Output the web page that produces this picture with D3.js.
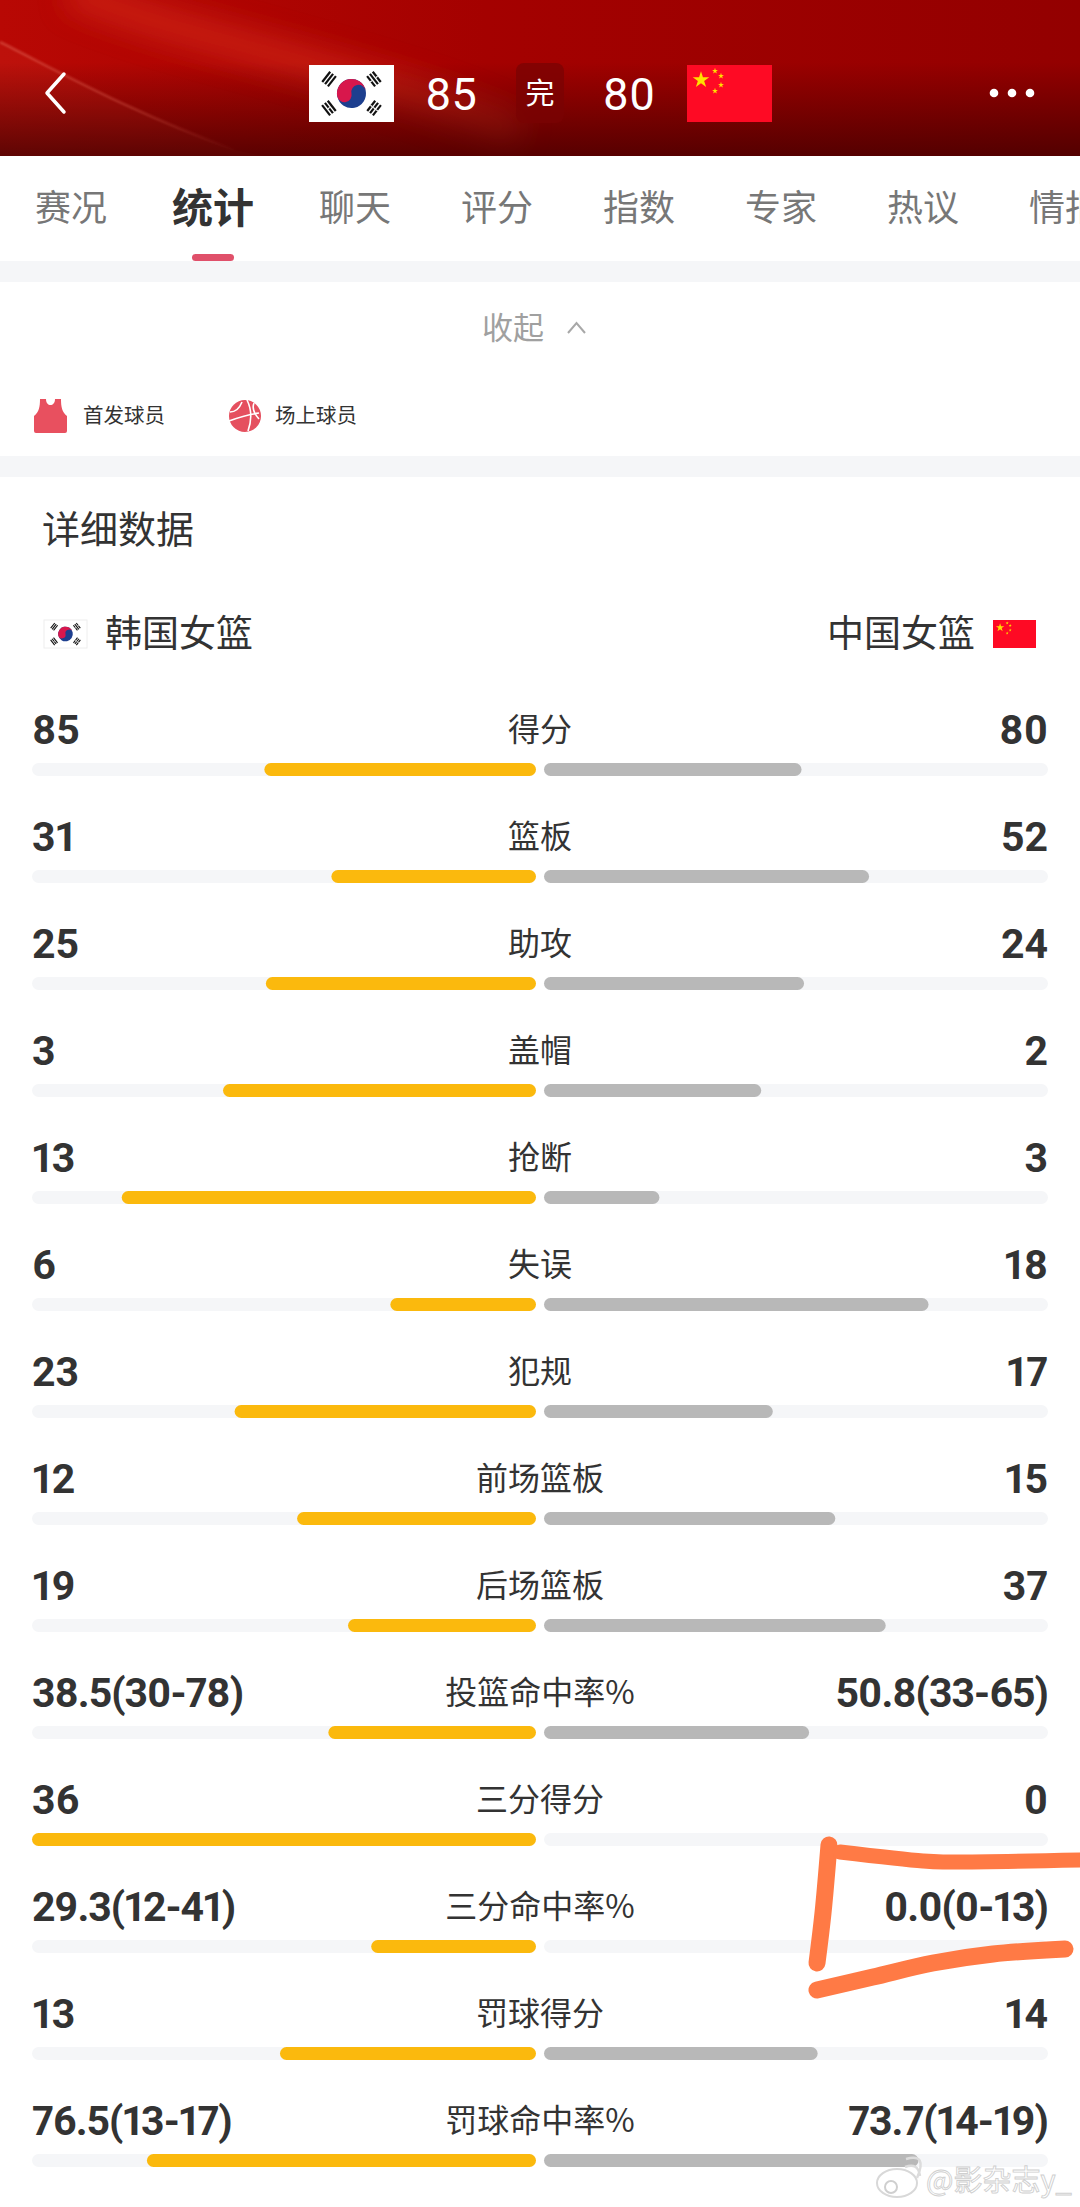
<!DOCTYPE html>
<html>
<head>
<meta charset="utf-8">
<script src="https://cdn.jsdelivr.net/npm/d3@7"></script>
<style>
  html, body { margin: 0; padding: 0; background: #fff; overflow: hidden; }
  svg { display: block; }
  text { font-family: "Noto Sans CJK SC", "Noto Sans", sans-serif; }
  .num { font-family: Roboto, "Noto Sans", sans-serif; font-feature-settings: "pnum" 1; font-variant-numeric: proportional-nums; }
</style>
</head>
<body>
<div id="container"></div>
<script>
// match data
const tabs = ["赛况", "统计", "聊天", "评分", "指数", "专家", "热议", "情报"];
const activeTab = "统计";
const homeScore = "85";
const awayScore = "80";
const homeTeam = "韩国女篮";
const awayTeam = "中国女篮";

const statNames = ["得分", "篮板", "助攻", "盖帽", "抢断", "失误", "犯规", "前场篮板", "后场篮板",
  "投篮命中率%", "三分得分", "三分命中率%", "罚球得分", "罚球命中率%"];
const homeLabels = ["85", "31", "25", "3", "13", "6", "23", "12", "19",
  "38.5(30-78)", "36", "29.3(12-41)", "13", "76.5(13-17)"];
const awayLabels = ["80", "52", "24", "2", "3", "18", "17", "15", "37",
  "50.8(33-65)", "0", "0.0(0-13)", "14", "73.7(14-19)"];

// how much of its track each bar fills, in percent
const homeFill = [53.9, 40.6, 53.6, 62.1, 82.2, 28.9, 59.8, 47.4, 37.3, 41.2, 100, 32.7, 50.8, 77.2];
const awayFill = [51.1, 64.5, 51.6, 43.1, 22.9, 76.3, 45.4, 57.8, 67.8, 52.6, 0, 0, 54.3, 74.3];

const width = 1080;
const height = 2207;
const textColor = "#333333";
const trackColor = "#f5f6f8";

const svg = d3.select("#container").append("svg")
  .attr("width", width)
  .attr("height", height)
  .attr("viewBox", "0 0 " + width + " " + height);

const defs = svg.append("defs");

// 1. Red header
const baseGrad = defs.append("linearGradient").attr("id", "baseGrad")
  .attr("x1", 0).attr("y1", 0).attr("x2", 1).attr("y2", 0);
baseGrad.append("stop").attr("offset", 0).attr("stop-color", "#b80804");
baseGrad.append("stop").attr("offset", 0.45).attr("stop-color", "#a40100");
baseGrad.append("stop").attr("offset", 1).attr("stop-color", "#930000");

const shadeGrad = defs.append("linearGradient").attr("id", "shadeGrad")
  .attr("x1", 0).attr("y1", 0).attr("x2", 0).attr("y2", 1);
shadeGrad.append("stop").attr("offset", 0.4).attr("stop-color", "#3a0000").attr("stop-opacity", 0);
shadeGrad.append("stop").attr("offset", 1).attr("stop-color", "#3a0000").attr("stop-opacity", 0.72);

const lineGrad = defs.append("linearGradient").attr("id", "lineGrad")
  .attr("gradientUnits", "userSpaceOnUse")
  .attr("x1", 0).attr("y1", 0).attr("x2", 240).attr("y2", 0);
lineGrad.append("stop").attr("offset", 0).attr("stop-color", "#e8705f").attr("stop-opacity", 0.55);
lineGrad.append("stop").attr("offset", 0.55).attr("stop-color", "#e8705f").attr("stop-opacity", 0.4);
lineGrad.append("stop").attr("offset", 1).attr("stop-color", "#e8705f").attr("stop-opacity", 0);

defs.append("filter").attr("id", "soft")
  .attr("x", "-30%").attr("y", "-60%").attr("width", "160%").attr("height", "220%")
  .append("feGaussianBlur").attr("stdDeviation", 14);
defs.append("filter").attr("id", "softLine")
  .attr("x", "-10%").attr("y", "-10%").attr("width", "120%").attr("height", "120%")
  .append("feGaussianBlur").attr("stdDeviation", 0.8);
defs.append("clipPath").attr("id", "headerClip")
  .append("rect").attr("width", width).attr("height", 156);

const header = svg.append("g").attr("clip-path", "url(#headerClip)");
header.append("rect").attr("width", width).attr("height", 156).attr("fill", "url(#baseGrad)");
// lighter streaks across the red
header.append("path")
  .attr("d", "M70,-10 C150,25 230,40 330,70 C400,90 450,105 520,135")
  .attr("fill", "none").attr("stroke", "#d62a1c").attr("stroke-width", 34)
  .attr("opacity", 0.6).attr("filter", "url(#soft)");
header.append("path")
  .attr("d", "M0,42 C60,72 130,112 235,150 L330,170 L0,170 Z")
  .attr("fill", "#ff7a60").attr("opacity", 0.08);
header.append("rect").attr("width", width).attr("height", 156).attr("fill", "url(#shadeGrad)");
header.append("path")
  .attr("d", "M0,42 C60,72 130,112 235,150")
  .attr("fill", "none").attr("stroke", "url(#lineGrad)").attr("stroke-width", 2)
  .attr("filter", "url(#softLine)");

header.append("path")
  .attr("d", "M64,74 L47,93 L64,112")
  .attr("fill", "none").attr("stroke", "#fff").attr("stroke-width", 3.5)
  .attr("stroke-linecap", "round").attr("stroke-linejoin", "round");

header.selectAll("circle.dot")
  .data([994, 1012, 1030])
  .enter().append("circle")
  .attr("class", "dot")
  .attr("cx", d => d).attr("cy", 93).attr("r", 4.3).attr("fill", "#fff");

function drawKorea(x, y, w, h) {
  const g = svg.append("g").attr("transform", "translate(" + x + "," + y + ")");
  const k = w / 85;
  g.append("rect").attr("width", w).attr("height", h).attr("fill", "#fff");
  const c = g.append("g").attr("transform", "translate(" + (w / 2) + "," + (h / 2) + ") scale(" + (14.5 * k) + ") rotate(-12)");
  c.append("circle").attr("r", 1).attr("fill", "#1d3f8f");
  c.append("path")
    .attr("d", "M-1,0 A1,1 0 0 1 1,0 A0.5,0.5 0 0 0 0,0 A0.5,0.5 0 0 1 -1,0 Z")
    .attr("fill", "#d8174c");
  const corners = [
    {a: -52, dx: -1, dy: -1, broken: [0, 0, 0]},
    {a: 52, dx: 1, dy: -1, broken: [1, 0, 1]},
    {a: 52, dx: -1, dy: 1, broken: [0, 1, 0]},
    {a: -52, dx: 1, dy: 1, broken: [1, 1, 1]}
  ];
  corners.forEach(t => {
    const tg = g.append("g")
      .attr("transform", "translate(" + (w / 2 + t.dx * 22.5 * k) + "," + (h / 2 + t.dy * 14.5 * k) + ") rotate(" + t.a + ")");
    t.broken.forEach((b, i) => {
      tg.append("rect")
        .attr("x", -6.5 * k).attr("y", (-4.6 + i * 3.6) * k)
        .attr("width", 13 * k).attr("height", 2.2 * k).attr("fill", "#111");
      if (b) {
        tg.append("rect")
          .attr("x", -0.6 * k).attr("y", (-4.6 + i * 3.6) * k)
          .attr("width", 1.2 * k).attr("height", 2.2 * k).attr("fill", "#fff");
      }
    });
  });
  return g;
}

function drawChina(x, y, w, h) {
  const g = svg.append("g").attr("transform", "translate(" + x + "," + y + ")");
  const k = w / 85;
  g.append("rect").attr("width", w).attr("height", h).attr("fill", "#fe0a24");
  const star = d3.symbol().type(d3.symbolStar);
  g.append("path")
    .attr("d", star.size(85 * k * k)())
    .attr("transform", "translate(" + (14 * k) + "," + (15 * k) + ")")
    .attr("fill", "#ffdf00");
  [[28, 6], [34, 11], [34, 20], [28, 26]].forEach(s => {
    g.append("path")
      .attr("d", star.size(11 * k * k)())
      .attr("transform", "translate(" + (s[0] * k) + "," + (s[1] * k) + ")")
      .attr("fill", "#ffdf00");
  });
  return g;
}

drawKorea(309, 65, 85, 57);
drawChina(687, 65, 85, 57);

svg.append("text").attr("class", "num")
  .attr("x", 451).attr("y", 110).attr("text-anchor", "middle")
  .attr("font-size", 45).attr("fill", "#fff").text(homeScore);
svg.append("text").attr("class", "num")
  .attr("x", 629).attr("y", 110).attr("text-anchor", "middle")
  .attr("font-size", 45).attr("fill", "#fff").text(awayScore);
svg.append("rect")
  .attr("x", 516).attr("y", 63).attr("width", 48).attr("height", 60).attr("rx", 8)
  .attr("fill", "#7a0303").attr("opacity", 0.75);
svg.append("text")
  .attr("x", 540).attr("y", 104).attr("text-anchor", "middle")
  .attr("font-size", 29).attr("fill", "#fff").text("完");

// 2. Tabs
const tabX = d3.scalePoint().domain(tabs).range([71, 1065]);

svg.selectAll("text.tab")
  .data(tabs)
  .enter().append("text")
  .attr("class", "tab")
  .attr("x", d => tabX(d))
  .attr("y", d => d === activeTab ? 223 : 221)
  .attr("text-anchor", "middle")
  .attr("font-size", d => d === activeTab ? 41 : 36)
  .attr("font-weight", d => d === activeTab ? 700 : 400)
  .attr("fill", d => d === activeTab ? textColor : "#777")
  .text(d => d);

svg.append("rect").attr("y", 261).attr("width", width).attr("height", 21).attr("fill", trackColor);
svg.append("rect")
  .attr("x", 192).attr("y", 254).attr("width", 42).attr("height", 7).attr("rx", 3.5)
  .attr("fill", "#e0506a");

// 3. Collapse line and the little legend
svg.append("text")
  .attr("x", 513).attr("y", 339).attr("text-anchor", "middle")
  .attr("font-size", 31).attr("fill", "#a0a0a0").text("收起");
svg.append("path")
  .attr("d", "M568,333 L576.5,323 L585,333")
  .attr("fill", "none").attr("stroke", "#a8a8a8").attr("stroke-width", 2);

svg.append("path")
  .attr("d", "M40,399 L46,399 C46,407 55,407 55,399 L61,399 C61,407 62,412 67,416 L67,431 Q67,433 65,433 L36,433 Q34,433 34,431 L34,416 C39,412 40,407 40,399 Z")
  .attr("fill", "#e8505f");
svg.append("text")
  .attr("x", 83).attr("y", 423).attr("font-size", 20.5).attr("fill", textColor).text("首发球员");

const ball = svg.append("g").attr("transform", "translate(245,416)");
ball.append("circle").attr("r", 16).attr("fill", "#e5505f");
ball.append("path")
  .attr("d", "M-15,-4 Q-7,-4 -3,-14 M-16,5 Q0,-1 14,-3 M2,-16 Q9,-2 3,15 M9,-13 Q6,-6 14,3")
  .attr("fill", "none").attr("stroke", "#fff").attr("stroke-width", 1.6);
svg.append("text")
  .attr("x", 275).attr("y", 423).attr("font-size", 20.5).attr("fill", textColor).text("场上球员");

svg.append("rect").attr("y", 456).attr("width", width).attr("height", 21).attr("fill", trackColor);

// 4. Section title and team names
svg.append("text")
  .attr("x", 42).attr("y", 543).attr("font-size", 38).attr("fill", textColor).text("详细数据");

drawKorea(44, 620, 43, 28).select("rect").attr("stroke", "#eee");
svg.append("text")
  .attr("x", 105).attr("y", 647).attr("font-size", 37).attr("fill", textColor).text(homeTeam);
drawChina(993, 620, 43, 28);
svg.append("text")
  .attr("x", 975).attr("y", 647).attr("text-anchor", "end")
  .attr("font-size", 37).attr("fill", textColor).text(awayTeam);

// 5. Scales for the stat rows
const yScale = d3.scaleBand()
  .domain(statNames)
  .range([700, 700 + 107 * statNames.length]);

const xHome = d3.scaleLinear().domain([0, 100]).range([536, 32]);
const xAway = d3.scaleLinear().domain([0, 100]).range([544, 1048]);

const barTop = 63;
const barHeight = 13;

// the long labels like 38.5(30-78) sit a bit tighter than Roboto does by itself
function tighten (label) {
  return label.indexOf("(") >= 0 ? -1 : 0;
}

const rows = svg.selectAll("g.row")
  .data(statNames)
  .enter().append("g")
  .attr("class", "row")
  .attr("transform", d => "translate(0," + yScale(d) + ")");

rows.append("text")
  .attr("x", 540).attr("y", 41).attr("text-anchor", "middle")
  .attr("font-size", 32).attr("fill", textColor)
  .text(d => d);

rows.append("text").attr("class", "num")
  .attr("x", 32).attr("y", 44)
  .attr("font-size", 41).attr("font-weight", 700).attr("fill", textColor)
  .attr("letter-spacing", (d, i) => tighten(homeLabels[i]))
  .text((d, i) => homeLabels[i]);

rows.append("text").attr("class", "num")
  .attr("x", 1048).attr("y", 44).attr("text-anchor", "end")
  .attr("font-size", 41).attr("font-weight", 700).attr("fill", textColor)
  .attr("letter-spacing", (d, i) => tighten(awayLabels[i]))
  .text((d, i) => awayLabels[i]);

// grey tracks
rows.append("rect")
  .attr("x", xHome(100)).attr("y", barTop)
  .attr("width", xHome(0) - xHome(100)).attr("height", barHeight).attr("rx", barHeight / 2)
  .attr("fill", trackColor);
rows.append("rect")
  .attr("x", xAway(0)).attr("y", barTop)
  .attr("width", xAway(100) - xAway(0)).attr("height", barHeight).attr("rx", barHeight / 2)
  .attr("fill", trackColor);

// filled bars
rows.append("rect")
  .attr("x", (d, i) => xHome(homeFill[i])).attr("y", barTop)
  .attr("width", (d, i) => xHome(0) - xHome(homeFill[i])).attr("height", barHeight).attr("rx", barHeight / 2)
  .attr("fill", "#fbb90d");
rows.filter((d, i) => awayFill[i] > 0).append("rect")
  .attr("x", xAway(0)).attr("y", barTop)
  .attr("width", d => xAway(awayFill[statNames.indexOf(d)]) - xAway(0)).attr("height", barHeight).attr("rx", barHeight / 2)
  .attr("fill", "#b8b8b8");

// 6. The orange marker strokes drawn over the screenshot
const line = d3.line().curve(d3.curveCatmullRom);
const strokes = [
  [[829, 1845], [823, 1913], [817, 1963]],
  [[840, 1852], [923, 1861], [943, 1862], [1085, 1860]],
  [[817, 1990], [873, 1977], [933, 1963], [993, 1954], [1065, 1949]]
];
svg.selectAll("path.stroke")
  .data(strokes)
  .enter().append("path")
  .attr("class", "stroke")
  .attr("d", d => line(d))
  .attr("fill", "none")
  .attr("stroke", "#ff7a45")
  .attr("stroke-width", (d, i) => i === 1 ? 15 : 17)
  .attr("stroke-linecap", "round");

// 7. Weibo watermark
const mark = svg.append("g");
mark.append("ellipse")
  .attr("cx", 897).attr("cy", 2183).attr("rx", 20).attr("ry", 14)
  .attr("fill", "#fff").attr("stroke", "#d8d8d8").attr("stroke-width", 2);
mark.append("circle")
  .attr("cx", 891).attr("cy", 2187).attr("r", 6)
  .attr("fill", "none").attr("stroke", "#cfcfcf").attr("stroke-width", 2);
mark.append("path")
  .attr("d", "M905,2167 Q918,2162 920,2176 M906,2159 Q928,2153 917,2178")
  .attr("fill", "none").attr("stroke", "#dcdcdc").attr("stroke-width", 2.5);
svg.append("text")
  .attr("x", 926).attr("y", 2191)
  .attr("font-size", 29)
  .attr("fill", "#fff").attr("fill-opacity", 0.85)
  .attr("stroke", "#cfcfcf").attr("stroke-width", 0.9)
  .text("@影杂志y_");
</script>
</body>
</html>
